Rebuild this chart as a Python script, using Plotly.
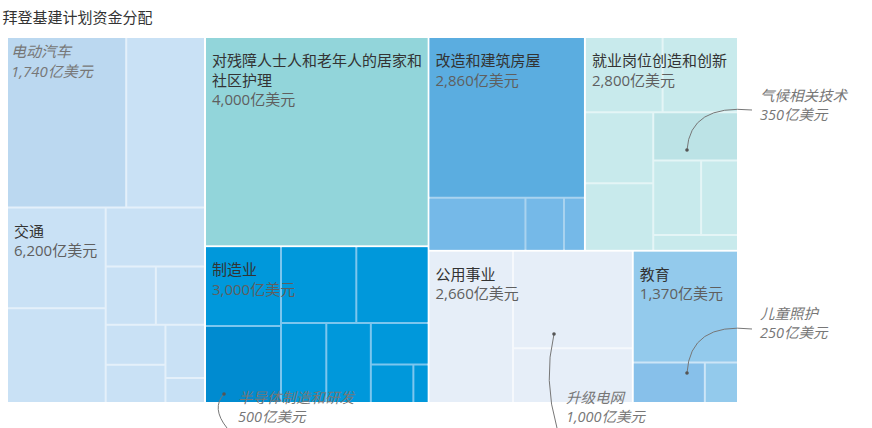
import plotly.graph_objects as go

title = "拜登基建计划资金分配"
groups = ["交通", "对残障人士人和老年人的居家和社区护理", "制造业", "改造和建筑房屋",
          "就业岗位创造和创新", "公用事业", "教育"]
group_labels = ["交通", "对残障人士人和老年人的居家和<br>社区护理", "制造业", "改造和建筑房屋",
                "就业岗位创造和创新", "公用事业", "教育"]
group_values = [6200, 4000, 3000, 2860, 2800, 2660, 1370]

# sub-items of every group (100 million USD)
transport_parts = [1740, 1150, 850, 800, 500, 250, 245, 205, 195, 180, 85]
care_parts = [4000]
manufacturing_parts = [520, 500, 495, 475, 310, 305, 205, 140, 50]
housing_parts = [2150, 440, 175, 95]
jobs_parts = [500, 485, 415, 395, 350, 305, 235, 115]
utility_parts = [1100, 1000, 560]
education_parts = [1005, 250, 115]
group_parts = [transport_parts, care_parts, manufacturing_parts, housing_parts,
               jobs_parts, utility_parts, education_parts]

# named sub-items
callout_names = ["电动汽车", "半导体制造和研发", "气候相关技术", "升级电网", "儿童照护"]
callout_group = [0, 2, 4, 5, 6]
callout_part = [0, 1, 4, 1, 1]

first_colors = ["#c9e1f5", "#92d5da", "#0098db", "#5badE0", "#c8eaec", "#e6eef8", "#93caec"]
rest_colors = ["#c9e1f5", "#92d5da", "#0098db", "#75b9e8", "#c8eaec", "#e6eef8", "#93caec"]
callout_colors = ["#bbd8f0", "#008bd0", "#bce3e6", "#e6eef8", "#87c0ea"]
gap_colors = ["#e4f0fa", "#c9eaec", "#7cc6ee", "#a9d3ef", "#e4f5f6", "#f5f8fc", "#cce5f7"]

transport_label_part = 2
FONT = "Open Sans, Noto Sans CJK SC, sans-serif"
CLEAR = "rgba(0,0,0,0)"


def money(v):
    return f"{v:,}亿美元"


def group_text(g):
    return f"<span style='color:#333'>{group_labels[g]}</span><br>{money(group_values[g])}"


# coloured cells (only the in-cell callout carries text here)
ids, labels, parents, values, colors, texts = [], [], [], [], [], []
# label layer: transport split into its parts, other groups as single cells
o_ids, o_labels, o_parents, o_values, o_texts = [], [], [], [], []
for g, name in enumerate(groups):
    ids.append(f"g{g}")
    labels.append(name)
    parents.append("")
    values.append(group_values[g])
    colors.append(gap_colors[g])
    texts.append("")
    o_ids.append(f"g{g}")
    o_labels.append(name)
    o_parents.append("")
    o_values.append(group_values[g])
    o_texts.append("" if g == 0 else group_text(g))
    for k, v in enumerate(group_parts[g]):
        ids.append(f"g{g}-{k}")
        parents.append(f"g{g}")
        values.append(v)
        colors.append(first_colors[g] if k == 0 else rest_colors[g])
        labels.append(name)
        texts.append("")
        for c, cname in enumerate(callout_names):
            if callout_group[c] == g and callout_part[c] == k:
                labels[-1] = cname
                colors[-1] = callout_colors[c]
                if c == 0:
                    texts[-1] = f"<i>{cname}<br>{money(v)}</i>"
        if g == 0:
            o_ids.append(f"g{g}-{k}")
            o_labels.append(labels[-1])
            o_parents.append(f"g{g}")
            o_values.append(v)
            o_texts.append(group_text(g) if k == transport_label_part else "")

# page geometry (pixels); the label layer is the same tiling nudged by DX, DY
W, H = 872, 428
L, T = 8, 38
TW, TH = 729, 364
DX, DY = 3, 9
PW, PH = TW + DX, TH + DY
R, B = W - L - PW, H - T - PH

TILING = dict(packing="squarify", squarifyratio=1.09, pad=2)

fig = go.Figure()
fig.add_trace(go.Treemap(
    ids=ids, labels=labels, parents=parents, values=values,
    branchvalues="total", sort=True,
    text=texts, texttemplate="%{text}", textposition="top left",
    textfont=dict(family=FONT, size=15, color="#777"),
    marker=dict(colors=colors, line=dict(width=0), pad=dict(t=0, l=0, r=0, b=0)),
    tiling=TILING,
    pathbar=dict(visible=False),
    root=dict(color=CLEAR),
    domain=dict(x=[0, TW / PW], y=[DY / PH, 1]),
    hoverinfo="label+value",
))

fig.add_trace(go.Treemap(
    ids=o_ids, labels=o_labels, parents=o_parents, values=o_values,
    branchvalues="total", sort=True,
    text=o_texts, texttemplate="%{text}", textposition="top left",
    textfont=dict(family=FONT, size=15, color="#5f5f5f"),
    marker=dict(colors=[CLEAR] * len(o_ids), line=dict(width=0),
                pad=dict(t=0, l=0, r=0, b=0)),
    tiling=TILING,
    pathbar=dict(visible=False),
    root=dict(color=CLEAR),
    domain=dict(x=[DX / PW, 1], y=[0, TH / PH]),
    hoverinfo="skip",
))


def px(x, y):
    return (x - L) / PW, (H - B - y) / PH


# callout leader lines, given in pixels and mapped to paper coordinates
callouts = [
    # name index, text left/top, curve start, control, end (dot)
    (2, (758, 84), (752, 110), (690, 104), (687, 150)),
    (4, (758, 302), (752, 329), (690, 322), (687, 373)),
    (3, (564, 386), (557, 428), (543, 380), (554, 334)),
    (1, (236, 386), (227, 428), (211, 408), (224, 394)),
]
for c, (tx, ty), p0, p1, p2 in callouts:
    g, k = callout_group[c], callout_part[c]
    v = group_parts[g][k]
    ax, ay = px(tx, ty)
    fig.add_annotation(
        x=ax, y=ay, xref="paper", yref="paper", xanchor="left", yanchor="top",
        text=f"<i>{callout_names[c]}<br>{money(v)}</i>", showarrow=False, align="left",
        font=dict(family=FONT, size=14.5, color="#777"),
    )
    a, b, e = px(*p0), px(*p1), px(*p2)
    fig.add_shape(type="path", xref="paper", yref="paper",
                  path=f"M {a[0]},{a[1]} Q {b[0]},{b[1]} {e[0]},{e[1]}",
                  line=dict(color="#777", width=1))
    d0, d1 = px(p2[0] - 1.8, p2[1] - 1.8), px(p2[0] + 1.8, p2[1] + 1.8)
    fig.add_shape(type="circle", xref="paper", yref="paper",
                  x0=d0[0], y0=d0[1], x1=d1[0], y1=d1[1],
                  fillcolor="#555", line=dict(width=0))

fig.update_layout(
    width=W, height=H,
    margin=dict(l=L, r=R, t=T, b=B),
    paper_bgcolor="white",
    title=dict(text=title, x=0.003, xanchor="left", y=1 - 18 / H, yanchor="middle",
               font=dict(family=FONT, size=15, color="#333")),
    showlegend=False,
)

fig.write_html("out.html", config={"displayModeBar": False},
               post_script="document.body.style.margin = '0';")
